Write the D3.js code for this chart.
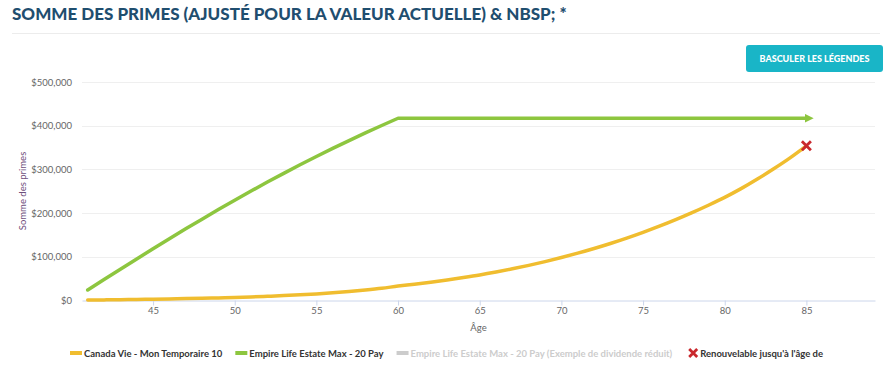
<!DOCTYPE html>
<html>
<head>
<meta charset="utf-8">
<script src="https://cdn.jsdelivr.net/npm/d3@7"></script>
<style>
  body { margin: 0; background: #fff; }
  svg { display: block; font-family: Lato, "Open Sans", sans-serif; }
</style>
</head>
<body>
<svg id="chart"></svg>
<script>
// Somme des primes - D3 recreation

const width = 894;
const height = 370;

// ages on the x axis
const ages = d3.range(41, 86);

// Canada Vie - Mon Temporaire 10 (thousands $)
const canadaVie = [
  1.0, 1.4, 1.9, 2.4, 3.0, 3.6, 4.3, 5.1, 6.0, 7.0,
  8.2, 9.6, 11.2, 13.0, 15.0, 17.5, 20.5, 24.0, 28.0, 33.0,
  37.3, 42.0, 47.1, 52.6, 58.5, 65.2, 72.5, 80.4, 89.0, 98.3,
  108.3, 119.0, 130.5, 142.8, 156.0, 170.0, 185.0, 201.0, 218.0, 236.0,
  256.0, 278.0, 301.5, 326.5, 354.0
];

// Empire Life Estate Max - 20 Pay (thousands $)
const empireLife = [
  24, 48, 71.5, 95, 118.5, 141.5, 164, 186, 208, 229.5,
  250.5, 271, 291, 310.5, 329.5, 348, 366, 383.5, 400.5, 417,
  417, 417, 417, 417, 417, 417, 417, 417, 417, 417,
  417, 417, 417, 417, 417, 417, 417, 417, 417, 417,
  417, 417, 417, 417, 417
];

// renewable until age (marker)
const renewAge = 85;
const renewValue = 354;

const yTicks = [0, 100000, 200000, 300000, 400000, 500000];
const xTicks = [45, 50, 55, 60, 65, 70, 75, 80, 85];

const legendItems = [
  { label: "Canada Vie - Mon Temporaire 10", color: "#f0bd2f", type: "line", faded: false },
  { label: "Empire Life Estate Max - 20 Pay", color: "#8dc63f", type: "line", faded: false },
  { label: "Empire Life Estate Max - 20 Pay (Exemple de dividende réduit)", color: "#cccccc", type: "line", faded: true },
  { label: "Renouvelable jusqu'à l'âge de", color: "#c9282d", type: "x", faded: false }
];

const svg = d3.select("#chart").attr("width", width).attr("height", height);

// ----- Title -----
svg.append("text")
  .attr("x", 12)
  .attr("y", 20)
  .attr("fill", "#1f4e6f")
  .attr("font-family", "Lato, sans-serif")
  .attr("font-weight", 900)
  .attr("font-size", 17)
  .text("SOMME DES PRIMES (AJUSTÉ POUR LA VALEUR ACTUELLE) & NBSP; *");

svg.append("line")
  .attr("x1", 12).attr("x2", 880)
  .attr("y1", 33.5).attr("y2", 33.5)
  .attr("stroke", "#ececec");

// ----- Toggle button -----
svg.append("rect")
  .attr("x", 746).attr("y", 45)
  .attr("width", 137).attr("height", 27)
  .attr("rx", 3)
  .attr("fill", "#19b5c7");

svg.append("text")
  .attr("x", 814.5).attr("y", 61.5)
  .attr("text-anchor", "middle")
  .attr("fill", "#fff")
  .attr("font-weight", 900)
  .attr("font-size", 9)
  .text("BASCULER LES LÉGENDES");

// ----- Scales -----
const x = d3.scaleLinear().domain([40.65, 89.2]).range([82, 875]);
const y = d3.scaleLinear().domain([0, 500000]).range([300.5, 82]);

// grid
svg.append("g")
  .selectAll("line")
  .data(yTicks.slice(1))
  .join("line")
  .attr("x1", 82).attr("x2", 875)
  .attr("y1", (d) => Math.round(y(d)) + 0.5)
  .attr("y2", (d) => Math.round(y(d)) + 0.5)
  .attr("stroke", "#efefef");

// y axis labels
const yAxis = d3.axisLeft(y)
  .tickValues(yTicks)
  .tickSize(0)
  .tickPadding(10)
  .tickFormat((d) => "$" + d3.format(",")(d));

svg.append("g")
  .attr("transform", "translate(82,0)")
  .call(yAxis)
  .call((g) => g.select(".domain").remove())
  .call((g) => g.selectAll("text")
    .attr("fill", "#666")
    .attr("font-size", 9.5)
    .attr("font-family", "Lato, sans-serif"));

// x axis
const xAxis = d3.axisBottom(x)
  .tickValues(xTicks)
  .tickSize(5)
  .tickPadding(2)
  .tickSizeOuter(0);

svg.append("g")
  .attr("transform", "translate(0,300.5)")
  .call(xAxis)
  .call((g) => g.select(".domain").attr("stroke", "#ccd6eb"))
  .call((g) => g.selectAll(".tick line").attr("stroke", "#ccd6eb"))
  .call((g) => g.selectAll("text")
    .attr("fill", "#666")
    .attr("font-size", 9.5)
    .attr("font-family", "Lato, sans-serif"));

// axis titles
svg.append("text")
  .attr("transform", `translate(26,${(82 + 300) / 2}) rotate(-90)`)
  .attr("text-anchor", "middle")
  .attr("fill", "#6f4f7c")
  .attr("font-size", 9.5)
  .text("Somme des primes");

svg.append("text")
  .attr("x", 478.5).attr("y", 331)
  .attr("text-anchor", "middle")
  .attr("fill", "#666")
  .attr("font-size", 9.5)
  .text("Âge");

// ----- Series -----
const line = d3.line()
  .x((d) => x(d[0]))
  .y((d) => y(d[1] * 1000));

svg.append("defs")
  .append("marker")
  .attr("id", "arrow")
  .attr("viewBox", "0 0 10 10")
  .attr("refX", 2).attr("refY", 5)
  .attr("markerWidth", 2.6).attr("markerHeight", 2.6)
  .attr("markerUnits", "strokeWidth")
  .attr("orient", "auto")
  .append("path")
  .attr("d", "M0,0 L10,5 L0,10 Z")
  .attr("fill", "#8dc63f");

svg.append("path")
  .datum(ages.map((a, i) => [a, empireLife[i]]))
  .attr("d", line)
  .attr("fill", "none")
  .attr("stroke", "#8dc63f")
  .attr("stroke-width", 3.5)
  .attr("stroke-linecap", "round")
  .attr("stroke-linejoin", "round")
  .attr("marker-end", "url(#arrow)");

svg.append("path")
  .datum(ages.map((a, i) => [a, canadaVie[i]]))
  .attr("d", line.curve(d3.curveMonotoneX))
  .attr("fill", "none")
  .attr("stroke", "#f0bd2f")
  .attr("stroke-width", 3.5)
  .attr("stroke-linecap", "round");

// renewal marker
function drawX(g, cx, cy, s, color, w) {
  g.append("path")
    .attr("d", `M${cx - s},${cy - s}L${cx + s},${cy + s}M${cx - s},${cy + s}L${cx + s},${cy - s}`)
    .attr("stroke", color)
    .attr("stroke-width", w)
    .attr("fill", "none");
}
drawX(svg, x(renewAge), y(renewValue * 1000), 4.5, "#c9282d", 2.8);

// ----- Legend -----
const legend = svg.append("g").attr("font-size", 9.5).attr("font-weight", 700);
let lx = 70;
legendItems.forEach((item) => {
  let tx;
  if (item.type === "line") {
    legend.append("rect")
      .attr("x", lx).attr("y", 351)
      .attr("width", 12).attr("height", 4)
      .attr("fill", item.color);
    tx = lx + 14;
  } else {
    lx += 4;
    drawX(legend, lx + 4, 353, 4, item.color, 2.8);
    tx = lx + 11;
  }
  const t = legend.append("text")
    .attr("x", tx).attr("y", 356.5)
    .attr("fill", item.faded ? "#cccccc" : "#333")
    .text(item.label);
  lx = tx + t.node().getComputedTextLength() + 13;
});
</script>
</body>
</html>
